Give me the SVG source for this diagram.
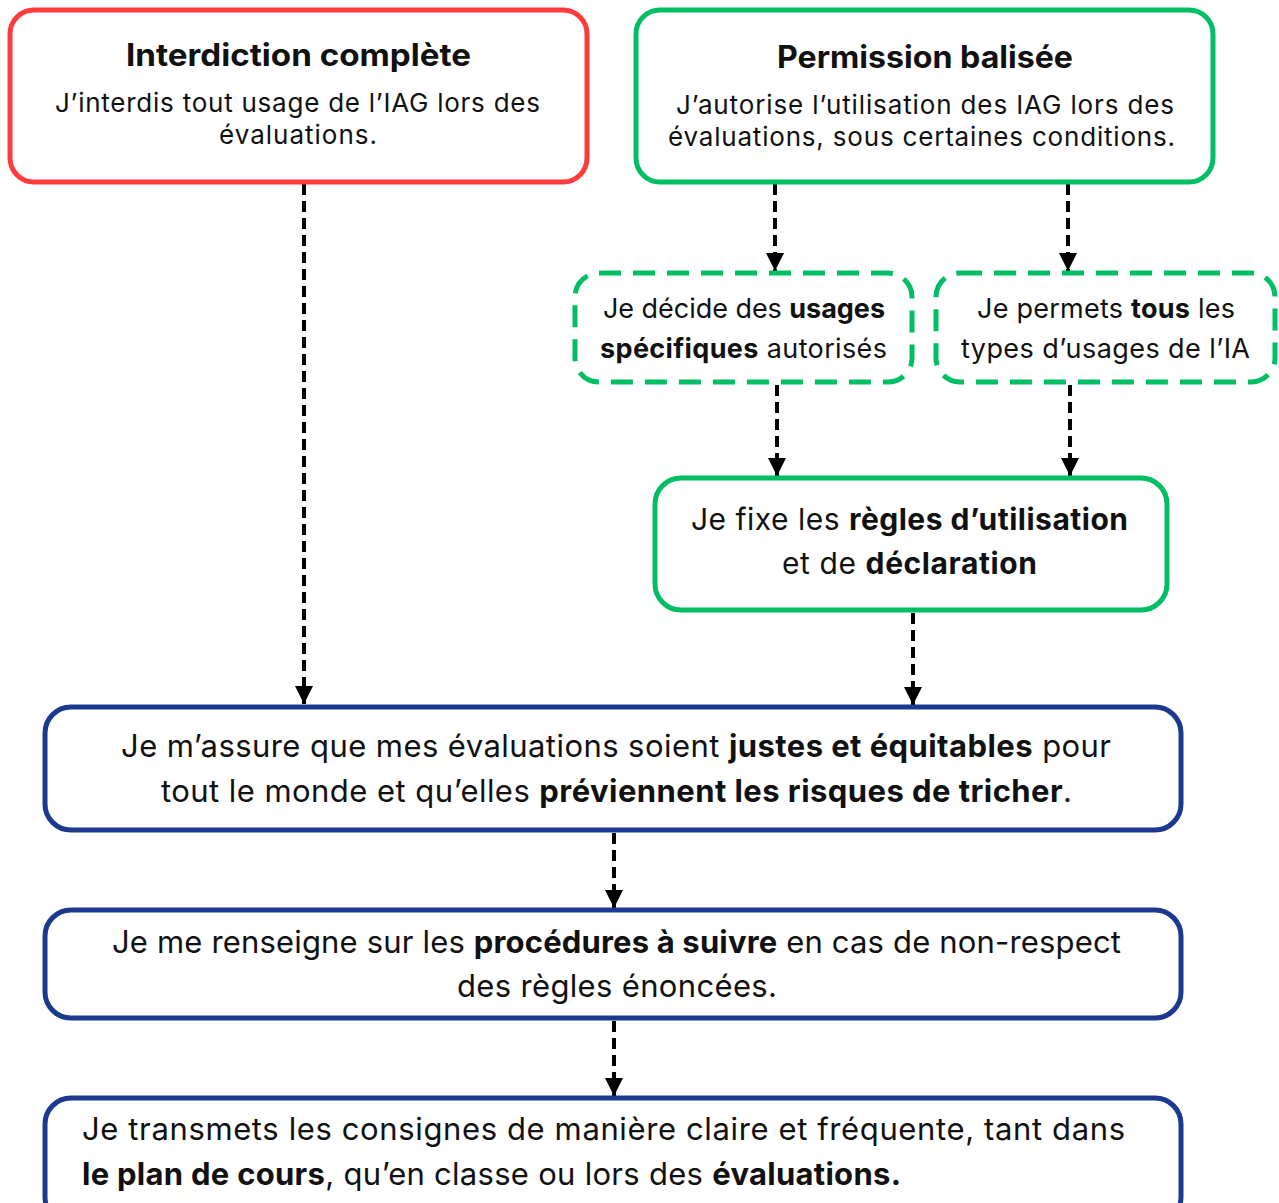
<svg xmlns="http://www.w3.org/2000/svg" width="1279" height="1203" viewBox="0 0 1279 1203">
<style>
text{font-family:Inter,"Noto Sans","Liberation Sans",sans-serif;fill:#111;text-anchor:start}
.b{font-weight:bold}
.t{font-weight:bold;font-size:31px}
.s{font-size:26px}
.m{font-size:27px}
.l{font-size:30px}
.x{font-size:31px}
.red{fill:#fff;stroke:#ff3b3b;stroke-width:5}
.grn{fill:#fff;stroke:#00bf63;stroke-width:5}
.gd{fill:#fff;stroke:#00bf63;stroke-width:5;stroke-dasharray:22 12}
.blu{fill:#fff;stroke:#1b3a8f;stroke-width:5}
.c{stroke:#000;stroke-width:4;stroke-dasharray:11 6;fill:none;marker-end:url(#ah)}
</style>
<defs>
<marker id="ah" viewBox="0 0 10 10" refX="10" refY="5" markerWidth="4.5" markerHeight="4.5" orient="auto" markerUnits="strokeWidth">
<path d="M0,0 L10,5 L0,10 z" fill="#000"/>
</marker>
</defs>
<rect width="1279" height="1203" fill="#fff"/>
<g id="connectors">
<line class="c" x1="304" y1="184" x2="304" y2="704"/>
<line class="c" x1="775" y1="184" x2="775" y2="271"/>
<line class="c" x1="1068" y1="184" x2="1068" y2="271"/>
<line class="c" x1="777" y1="385" x2="777" y2="476"/>
<line class="c" x1="1070" y1="385" x2="1070" y2="476"/>
<line class="c" x1="913" y1="613" x2="913" y2="705"/>
<line class="c" x1="614" y1="833" x2="614" y2="908"/>
<line class="c" x1="614" y1="1021" x2="614" y2="1096"/>
</g>
<g id="interdiction">
<rect class="red" x="10" y="10" width="577" height="172" rx="24"/>
<text class="t" x="126" y="66" textLength="345" lengthAdjust="spacingAndGlyphs">Interdiction complète</text>
<text class="s" x="55" y="112" textLength="485">J’interdis tout usage de l’IAG lors des</text>
<text class="s" x="219" y="144" textLength="158">évaluations.</text>
</g>
<g id="permission">
<rect class="grn" x="636" y="10" width="577" height="172" rx="24"/>
<text class="t" x="777" y="68" textLength="296" lengthAdjust="spacingAndGlyphs">Permission balisée</text>
<text class="s" x="676" y="114" textLength="498">J’autorise l’utilisation des IAG lors des</text>
<text class="s" x="668" y="146" textLength="507">évaluations, sous certaines conditions.</text>
</g>
<g id="usages-specifiques">
<rect class="gd" x="575" y="273" width="337" height="109" rx="24"/>
<text class="m" x="603" y="318" textLength="282">Je décide des <tspan class="b">usages</tspan></text>
<text class="m" x="600" y="358" textLength="287"><tspan class="b">spécifiques</tspan> autorisés</text>
</g>
<g id="tous-usages">
<rect class="gd" x="936" y="273" width="339" height="109" rx="24"/>
<text class="m" x="977" y="318" textLength="258">Je permets <tspan class="b">tous</tspan> les</text>
<text class="m" x="961" y="358" textLength="289">types d’usages de l’IA</text>
</g>
<g id="regles">
<rect class="grn" x="655" y="478" width="512" height="132" rx="26"/>
<text class="l" x="691" y="530" textLength="437">Je fixe les <tspan class="b">règles d’utilisation</tspan></text>
<text class="l" x="782" y="574" textLength="255">et de <tspan class="b">déclaration</tspan></text>
</g>
<g id="justes">
<rect class="blu" x="45" y="707" width="1136" height="123" rx="26"/>
<text class="x" x="121" y="757" textLength="990">Je m’assure que mes évaluations soient <tspan class="b">justes et équitables</tspan> pour</text>
<text class="x" x="161" y="802" textLength="911">tout le monde et qu’elles <tspan class="b">préviennent les risques de tricher</tspan>.</text>
</g>
<g id="procedures">
<rect class="blu" x="45" y="910" width="1136" height="108" rx="26"/>
<text class="x" x="112" y="953" textLength="1009">Je me renseigne sur les <tspan class="b">procédures à suivre</tspan> en cas de non-respect</text>
<text class="x" x="457" y="997" textLength="320">des règles énoncées.</text>
</g>
<g id="transmets">
<rect class="blu" x="45" y="1098" width="1136" height="125" rx="26"/>
<text class="x" x="82" y="1140" textLength="1043">Je transmets les consignes de manière claire et fréquente, tant dans</text>
<text class="x" x="82" y="1185" textLength="819"><tspan class="b">le plan de cours</tspan>, qu’en classe ou lors des <tspan class="b">évaluations.</tspan></text>
</g>
</svg>
